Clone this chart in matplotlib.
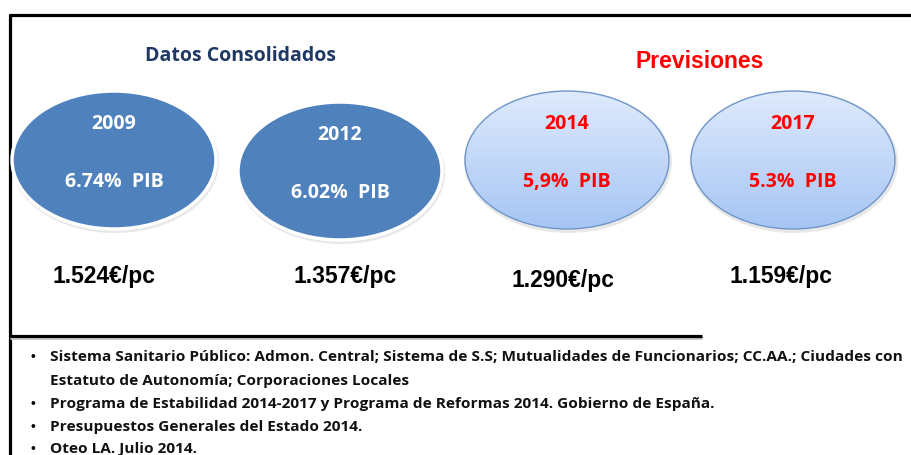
import numpy as np
import matplotlib
matplotlib.use("Agg")
import matplotlib.pyplot as plt
from matplotlib.patches import Ellipse
from matplotlib.colors import to_rgb

# data
years = ["2009", "2012", "2014", "2017"]
pib_labels = ["6.74%  PIB", "6.02%  PIB", "5,9%  PIB", "5.3%  PIB"]
per_capita = ["1.524€/pc", "1.357€/pc", "1.290€/pc", "1.159€/pc"]
is_forecast = [False, False, True, True]
group_titles = ["Datos Consolidados", "Previsiones"]
notes = [
    "Sistema Sanitario Público: Admon. Central; Sistema de S.S; Mutualidades de Funcionarios; CC.AA.; Ciudades con",
    "Estatuto de Autonomía; Corporaciones Locales",
    "Programa de Estabilidad 2014-2017 y Programa de Reformas 2014. Gobierno de España.",
    "Presupuestos Generales del Estado 2014.",
    "Oteo LA. Julio 2014.",
]
note_has_bullet = [True, False, True, True, True]

# layout (pixel coords, y down)
W, H = 912, 455
centers = [(114, 160), (340, 171), (567, 160), (793, 160)]
ell_w, ell_h = 204, 138
pc_pos = [(104, 276), (345, 276), (563, 280), (781, 276)]
title_pos = [(241, 56), (700, 61)]

CAL = ["Open Sans", "DejaVu Sans"]
ARIAL = ["Liberation Sans", "DejaVu Sans"]

fig = plt.figure(figsize=(W / 100, H / 100), dpi=100)
ax = fig.add_axes([0, 0, 1, 1])
ax.set_xlim(0, W)
ax.set_ylim(H, 0)
ax.axis("off")

# frame lines
ax.plot([9, W], [15, 15], color="black", lw=2.3, solid_capstyle="butt")
ax.plot([10, 10], [14, H], color="black", lw=2.3, solid_capstyle="butt")
ax.plot([10, 702], [338, 338], color="#c8c8c8", lw=2.0, solid_capstyle="butt")
ax.plot([10, 702], [336, 336], color="black", lw=2.3, solid_capstyle="butt")

top_c = np.array(to_rgb("#dfeafc"))
bot_c = np.array(to_rgb("#a6c5f4"))
grad = np.linspace(0, 1, 200)[:, None, None]
grad_img = top_c * (1 - grad) + bot_c * grad

for (cx, cy), yr, pib, fc in zip(centers, years, pib_labels, is_forecast):
    # soft shadow
    ax.add_patch(Ellipse((cx + 1, cy + 2), ell_w + 4, ell_h + 4,
                         facecolor="#d9d9d9", edgecolor="none", alpha=0.6, zorder=1))
    if fc:
        e = Ellipse((cx, cy), ell_w, ell_h, facecolor="none",
                    edgecolor="#6f95c9", lw=1.0, zorder=3)
        ax.add_patch(e)
        im = ax.imshow(grad_img, extent=(cx - ell_w / 2, cx + ell_w / 2,
                                         cy + ell_h / 2, cy - ell_h / 2),
                       origin="upper", aspect="auto", zorder=2)
        im.set_clip_path(e)
        tcol = "#ff0000"
    else:
        ax.add_patch(Ellipse((cx, cy), ell_w, ell_h, facecolor="#4f81bd",
                             edgecolor="white", lw=2.5, zorder=2))
        tcol = "white"
    ax.text(cx, cy - 36, yr, color=tcol, fontsize=14, fontweight="bold",
            family=CAL, ha="center", va="center", zorder=4)
    ax.text(cx, cy + 22, pib, color=tcol, fontsize=14, fontweight="bold",
            family=CAL, ha="center", va="center", zorder=4)

ax.set_xlim(0, W)
ax.set_ylim(H, 0)

for (x, y), s in zip(pc_pos, per_capita):
    ax.text(x, y, s, fontsize=16.5, fontweight="bold", family=ARIAL,
            ha="center", va="center", color="black")

ax.text(*title_pos[0], group_titles[0], fontsize=14, fontweight="bold",
        family=CAL, color="#1f3864", ha="center", va="center")
ax.text(*title_pos[1], group_titles[1], fontsize=16.5, fontweight="bold",
        family=ARIAL, color="#ff0000", ha="center", va="center")

note_y = [357, 381, 404, 427, 449]
for y, s, b in zip(note_y, notes, note_has_bullet):
    if b:
        ax.text(33, y, "•", fontsize=10, family=ARIAL, ha="center", va="center")
    ax.text(50, y, s, fontsize=11.1, fontweight="bold", family=CAL,
            ha="left", va="center", color="#111111")

fig.savefig("out.png", dpi=100)
